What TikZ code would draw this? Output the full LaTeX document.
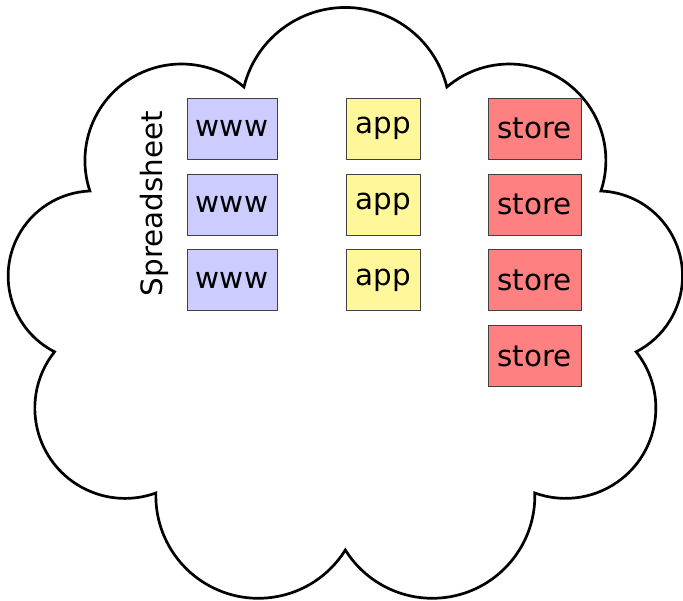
\documentclass[tikz,border=0pt]{standalone}
\usepackage{fontspec}
\setmainfont{DejaVu Sans}
\definecolor{wwwfill}{HTML}{CCCCFF}
\definecolor{appfill}{HTML}{FFF799}
\definecolor{storefill}{HTML}{FF8080}
\begin{document}
\begin{tikzpicture}[x=1pt,y=1pt,
  cloudline/.style={draw=black, line width=2.7pt, fill=white},
  box/.style={draw=black!75, line width=0.8pt, minimum height=61pt, inner xsep=0pt, inner ysep=0pt, font=\fontsize{29.4}{35}\selectfont},
  wwwbox/.style={box, fill=wwwfill, minimum width=90pt},
  appbox/.style={box, fill=appfill, minimum width=74.7pt},
  storebox/.style={box, fill=storefill, minimum width=93pt},
  lab/.style={font=\fontsize{29.4}{35}\selectfont, inner sep=0pt}]
\path[use as bounding box] (0,0) rectangle (683,600);
\coordinate (I) at (89.9,409);
\draw[cloudline] (I) arc[start angle=198.42, end angle=49.63, radius=96.5]
  arc[start angle=166.16, end angle=13.84, radius=104.5]
  arc[start angle=130.37, end angle=-18.42, radius=96.5]
  arc[start angle=87.64, end angle=-62.93, radius=85.1]
  arc[start angle=38.57, end angle=-109.92, radius=90.3]
  arc[start angle=1.57, end angle=-148.08, radius=102.5]
  arc[start angle=-31.92, end angle=-181.57, radius=102.5]
  arc[start angle=-70.08, end angle=-218.57, radius=90.3]
  arc[start angle=242.93, end angle=92.36, radius=85.1] -- cycle;
\node[wwwbox] (w1) at (232,471.3) {www};
\node[wwwbox] (w2) at (232,395.5) {www};
\node[wwwbox] (w3) at (232,319.7) {www};
\node[appbox] (a1) at (383.3,471.3) {app};
\node[appbox] (a2) at (383.3,395.5) {app};
\node[appbox] (a3) at (383.3,319.7) {app};
\node[storebox] (s1) at (534.5,471.3) {store};
\node[storebox] (s2) at (534.5,395.5) {store};
\node[storebox] (s3) at (534.5,319.7) {store};
\node[storebox] (s4) at (534.5,243.9) {store};
\node[lab, rotate=90] (sp) at (154.6,396.3) {Spreadsheet};
\end{tikzpicture}
\end{document}
